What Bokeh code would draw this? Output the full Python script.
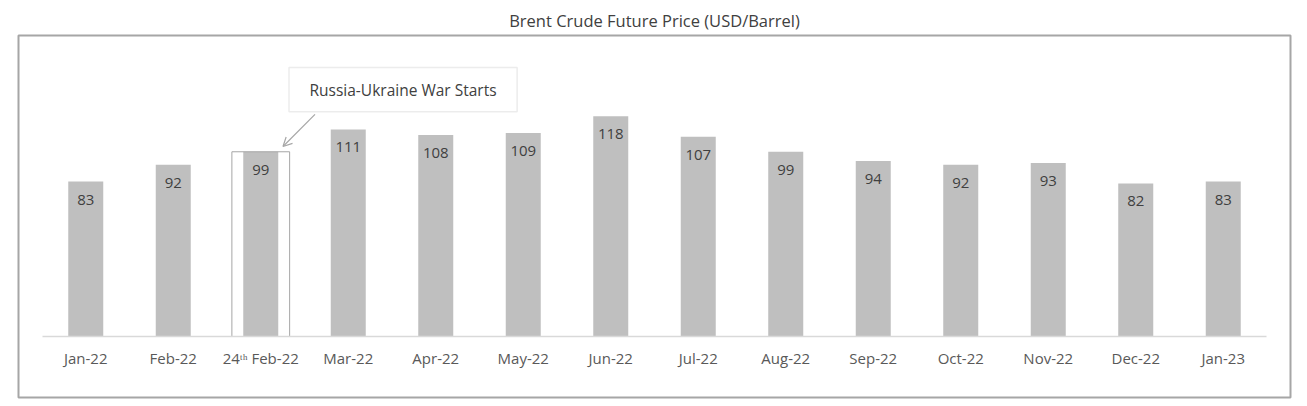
from bokeh.plotting import figure
from bokeh.models import (FactorRange, Range1d, ColumnDataSource, LabelSet,
                          BoxAnnotation, Arrow, OpenHead, Label)
from bokeh.embed import file_html
from bokeh.resources import INLINE
from bokeh.core.properties import value

# ---- data ----
categories = ["Jan-22", "Feb-22", "24\u1d57\u02b0 Feb-22", "Mar-22", "Apr-22", "May-22",
              "Jun-22", "Jul-22", "Aug-22", "Sep-22", "Oct-22", "Nov-22", "Dec-22", "Jan-23"]
prices = [83, 92, 99, 111, 108, 109, 118, 107, 99, 94, 92, 93, 82, 83]
highlight_category = "24\u1d57\u02b0 Feb-22"
highlight_price = 99
callout_text = "Russia-Ukraine War Starts"
title_text = "Brent Crude Future Price (USD/Barrel)"

FONT = "Open Sans"
BAR = "#bfbfbf"
TXT = "#404040"
BORDER = "#a6a6a6"

src = ColumnDataSource(dict(cat=categories, price=prices, label=[str(v) for v in prices]))

# frame == outer chart box; axis drawn inside at y = 0
p = figure(x_range=FactorRange(factors=categories, range_padding=0.2686,
                               range_padding_units="absolute"),
           y_range=Range1d(-32.69, 161.31),
           width=1307, height=406, output_backend="svg", toolbar_location=None,
           min_border_left=18, min_border_right=17, min_border_top=35, min_border_bottom=9)

p.title.text = title_text
p.title.align = "center"
p.title.text_font = FONT
p.title.text_font_size = "16.5px"
p.title.text_font_style = "normal"
p.title.text_color = TXT
p.title.standoff = 8

p.yaxis.visible = False
p.xgrid.grid_line_color = None
p.ygrid.grid_line_color = None
p.outline_line_color = BORDER
p.outline_line_width = 2
p.background_fill_color = "white"
p.border_fill_color = "white"

p.xaxis.fixed_location = 0
p.xaxis.bounds = (0, len(categories))
p.xaxis.axis_line_color = "#d9d9d9"
p.xaxis.axis_line_width = 1.5
p.xaxis.major_tick_line_color = None
p.xaxis.minor_tick_line_color = None
p.xaxis.major_label_text_font = FONT
p.xaxis.major_label_text_font_size = "15px"
p.xaxis.major_label_text_color = "#595959"
p.xaxis.major_label_standoff = 5

p.vbar(x="cat", top="price", width=0.4, source=src, fill_color=BAR, line_color=None)

p.add_layout(LabelSet(x="cat", y="price", text="label", source=src, y_offset=-18,
                      text_align="center", text_baseline="middle",
                      text_font=value(FONT), text_font_size=value("15px"), text_color=TXT))

# highlight outline around the 24th Feb bar
p.vbar(x=[highlight_category], top=[highlight_price], width=0.66,
       fill_color=None, line_color=BORDER, line_width=1)

# callout box, text and arrow
p.add_layout(BoxAnnotation(left=2.823, right=5.43, bottom=120.5, top=144.1,
                           fill_color="white", fill_alpha=1.0,
                           line_color=BAR, line_width=1.5))
p.add_layout(Label(x=4.126, y=132.3, text=callout_text, text_align="center",
                   text_baseline="middle", text_font=FONT, text_font_size="15.5px",
                   text_color=TXT))
p.add_layout(Arrow(end=OpenHead(size=9, line_color=BORDER, line_width=1.2),
                   x_start=3.12, y_start=119, x_end=2.754, y_end=101.8,
                   line_color=BORDER, line_width=1.2))

open("out.html", "w").write(file_html(p, INLINE))
